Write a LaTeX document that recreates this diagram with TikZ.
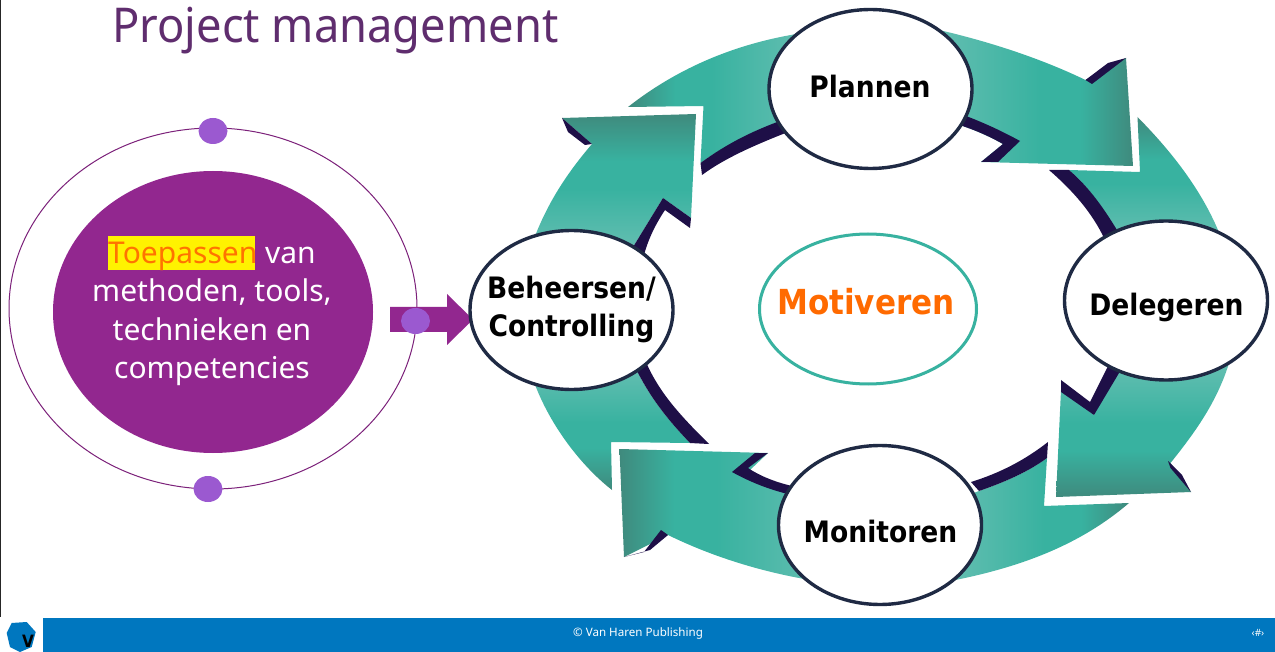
\documentclass[tikz,border=0pt]{standalone}
\usepackage{fontspec}
\setmainfont{Noto Sans}
\newfontfamily\boldface{DejaVu Sans Condensed Bold}[BoldFont={DejaVu Sans Condensed Bold}]
\definecolor{tealL}{HTML}{66BFB2}
\definecolor{tealM}{HTML}{38B2A0}
\definecolor{tealD}{HTML}{3F8A7D}
\definecolor{navy}{HTML}{1F2A44}
\definecolor{inkband}{HTML}{1E0F47}
\definecolor{plum}{HTML}{92278F}
\definecolor{dot}{HTML}{9B59D0}
\definecolor{titlecol}{HTML}{5F2D6E}
\definecolor{barblue}{HTML}{0077BF}
\definecolor{hot}{HTML}{FF6A00}
\pgfdeclarehorizontalshading{armh}{100bp}{color(0bp)=(tealL);color(25bp)=(tealL);color(52bp)=(tealM);color(62bp)=(tealM);color(75bp)=(tealD);color(100bp)=(tealD)}
\pgfdeclareverticalshading{armv}{100bp}{color(0bp)=(tealL);color(25bp)=(tealL);color(48bp)=(tealM);color(58bp)=(tealM);color(75bp)=(tealD);color(100bp)=(tealD)}
\usetikzlibrary{shapes.geometric}
\tikzset{
  bubble/.style={ellipse,draw=navy,line width=3.4pt,fill=white,minimum width=203pt,minimum height=159pt,inner sep=0pt},
  bubbletext/.style={inner sep=0pt,align=center,font=\boldface\fontsize{29.5}{38}\selectfont},
  band/.style={fill=inkband},
  armH/.style={shading=armh,shading angle=#1},
  armV/.style={shading=armv,shading angle=#1},
  dotnode/.style={ellipse,fill=dot,inner sep=0pt,minimum width=29pt,minimum height=26pt},
}
\begin{document}
\begin{tikzpicture}[x=1pt,y=-1pt]
\useasboundingbox (0,0) rectangle (1275,652);
\fill[white] (0,0) rectangle (1275,652);
\draw[black!85,line width=1.5pt] (0.7,0) -- (0.7,617);
% title
\node[anchor=base west,inner sep=0pt,text=titlecol,font=\fontsize{48}{50}\selectfont] (title) at (112,43) {\scalebox{0.943}[1]{Project management}};
% left
\node[ellipse,draw=plum!85!black,line width=1pt,minimum width=408pt,minimum height=361pt,inner sep=0pt] (ring) at (213,308.5) {};
\node[ellipse,fill=plum,minimum width=320pt,minimum height=282pt,inner sep=0pt] (core) at (213,312) {};
\fill[yellow] (108,236) rectangle (255,270);
\node[align=center,text=white,inner sep=0pt,font=\fontsize{30}{38.3}\selectfont] (coretext) at (212,314) {\textcolor{orange!90!red}{Toepassen} van\\methoden, tools,\\technieken en\\competencies};
\fill[plum] (390,307) -- (447,307) -- (447,294) -- (473,319.5) -- (447,345) -- (447,332) -- (390,332) -- cycle;
\node[dotnode] (dottop) at (213,131) {};
\node[dotnode] (dotbot) at (208,489) {};
\node[dotnode] (dotmid) at (415.5,321) {};
% teal arms
\path[armH=0] (930,28) .. controls (985,40) and (1040,58) .. (1085.5,80) -- (1126,58) -- (1133,166) -- (981,162) -- (1003,144) .. controls (985,134) and (970,128) .. (950,122) -- cycle;
\path[armV=0] (1137.5,117) .. controls (1175,155) and (1205,195) .. (1222,240) -- (1117,240) .. controls (1105,210) and (1090,188) .. (1069,170) -- (1140,172) -- cycle;
\path[armV=180] (1230,360) .. controls (1218,400) and (1197,430) .. (1170.5,463) -- (1191,492) -- (1056,497) -- (1061,390) -- (1094,415) -- (1122,360) -- cycle;
\path[armH=0] (1047,458) -- (1044,506) -- (1129,503) .. controls (1080,545) and (1020,568) .. (945,582) -- (955,500) -- (979,491) .. controls (1005,482) and (1028,472) .. (1047,458) -- cycle;
\path[armH=180] (830,583) .. controls (770,575) and (715,558) .. (668,535) -- (624,557) -- (619.5,449) -- (768,453) -- (750,470) .. controls (765,480) and (780,488) .. (800,495) -- cycle;
\path[armV=180] (530,370) .. controls (545,420) and (580,465) .. (612,490) -- (611,442) -- (690,443) .. controls (668,420) and (650,398) .. (634,365) -- cycle;
\path[armV=0] (530,250) .. controls (545,205) and (568,172) .. (592,144) -- (562,118) -- (696,114) -- (691,218) -- (663,198) -- (630,252) -- cycle;
\path[armH=180] (628,107) .. controls (675,70) and (735,42) .. (810,32) -- (800,118) -- (777,123) .. controls (750,135) and (725,145) .. (700.5,163) -- (703.5,106) -- cycle;
% dark bands
\fill[band] (955,112) .. controls (978,120) and (1000,130) .. (1020,141) -- (998,162) -- (981,162) -- (1003,144) .. controls (985,134) and (970,128) .. (950,122) -- cycle;
\fill[band] (1085.5,80) -- (1108,63) -- (1126,58) -- (1092,84) -- cycle;
\fill[band] (1049,170) .. controls (1072,190) and (1092,212) .. (1105,240) -- (1120,235) .. controls (1105,210) and (1090,188) .. (1069,170) -- cycle;
\fill[band] (1061,380) -- (1090,402) -- (1110,362) -- (1122,368) -- (1094,415) -- (1061,392) -- cycle;
\fill[band] (1168,461) -- (1182,475) -- (1191,492) -- (1170.5,468) -- cycle;
\fill[band] (1048,442) .. controls (1025,460) and (1000,473) .. (971,482) -- (979,491) .. controls (1005,482) and (1028,472) .. (1047,458) -- cycle;
\fill[band] (768,453) -- (755,453) -- (732,472) .. controls (750,482) and (770,490) .. (792,495) -- (792,486) .. controls (775,482) and (760,476) .. (748,468) -- cycle;
\fill[band] (668,535) -- (661,530) -- (644,552) -- (624,557) -- (650,550) -- cycle;
\fill[band] (646,362) .. controls (660,395) and (685,420) .. (709,444) -- (690,443) .. controls (668,420) and (650,398) .. (634,365) -- cycle;
\fill[band] (663,198) -- (691,218) -- (690,228) -- (665,210) .. controls (655,225) and (648,240) .. (644,255) -- (630,252) -- cycle;
\fill[band] (562,118) -- (568,132) -- (585,145) -- (592,144) -- cycle;
\fill[band] (700.5,163) .. controls (725,145) and (750,132) .. (780,121) -- (788,132) .. controls (755,145) and (725,158) .. (702,175) -- cycle;
% bubbles
\node[bubble] (plannen) at (870.5,89) {};
\node[bubble] (delegeren) at (1166,300.5) {};
\node[bubble] (monitoren) at (880,525) {};
\node[bubble] (beheersen) at (571.5,310) {};
\node[ellipse,draw=tealM,line width=3pt,fill=white,minimum width=217pt,minimum height=150pt,inner sep=0pt] (motiveren) at (868,309) {};
\node[bubbletext] (plannenlabel) at (870,86.5) {Plannen};
\node[bubbletext] (delegerenlabel) at (1166.5,307.5) {Delegeren};
\node[bubbletext] (monitorenlabel) at (880.5,532) {Monitoren};
\node[bubbletext] (beheersenlabel) at (571.5,309) {Beheersen/\\Controlling};
\node[inner sep=0pt,text=hot,font=\boldface\fontsize{34.5}{40}\selectfont] (motivtext) at (866,302) {Motiveren};
% footer
\fill[barblue] (43,618) rectangle (1275,652);
\node[text=white,inner sep=0pt,font=\fontsize{11.6}{14}\selectfont] (copy) at (638,633) {© Van Haren Publishing};
\node[text=white,inner sep=0pt,font=\fontsize{10}{12}\selectfont] (page) at (1258,633) {‹\#›};
\fill[barblue] (6.7,633) -- (11.7,623) -- (26.7,622) -- (35.7,632) -- (31.7,647) -- (20,652) -- (10,647) -- cycle;
\node[inner sep=0pt,font=\boldface\fontsize{17}{18}\selectfont,text=black] (logov) at (28,641) {V};
\end{tikzpicture}
\end{document}
